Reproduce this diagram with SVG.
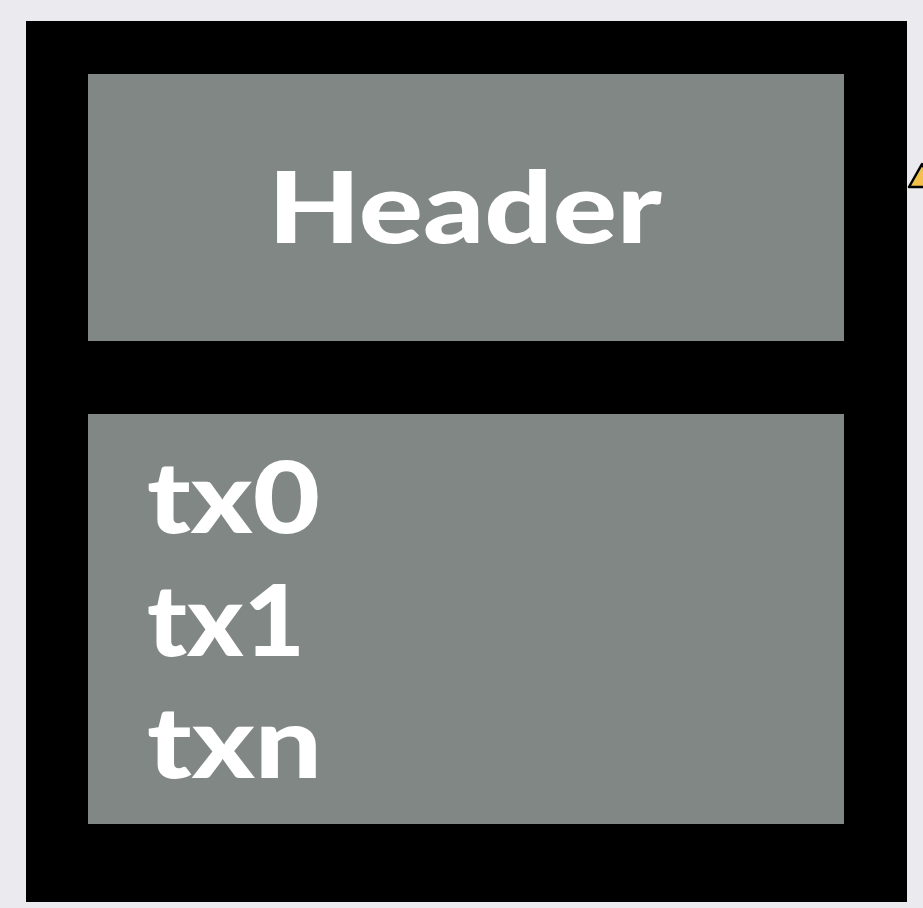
<svg xmlns="http://www.w3.org/2000/svg" width="923" height="908" viewBox="0 0 923 908">
<style>
.panel{fill:#808784}
.lbl{font-family:"Lato","Open Sans","DejaVu Sans",sans-serif;font-weight:900;fill:#ffffff}
</style>
<rect x="0" y="0" width="923" height="908" fill="#ebebef"/>
<g id="warning">
<polygon points="909,187 922,164 935,187" fill="#f4c04c" stroke="#000" stroke-width="2.5" stroke-linejoin="round"/>
</g>
<g id="block">
<rect x="26" y="21" width="881" height="881" fill="#000"/>
</g>
<g id="header">
<rect class="panel" x="88" y="74" width="756" height="267"/>
<text class="lbl" x="268" y="243" font-size="100" textLength="394" lengthAdjust="spacingAndGlyphs">Header</text>
</g>
<g id="body">
<rect class="panel" x="88" y="414" width="756" height="410"/>
<text class="lbl" x="147" y="533" font-size="100" textLength="173" lengthAdjust="spacingAndGlyphs">tx0</text>
<text class="lbl" x="147" y="656" font-size="100" textLength="158" lengthAdjust="spacingAndGlyphs">tx1</text>
<text class="lbl" x="147" y="778" font-size="100" textLength="175" lengthAdjust="spacingAndGlyphs">txn</text>
</g>
<g id="connectors"/>
</svg>
